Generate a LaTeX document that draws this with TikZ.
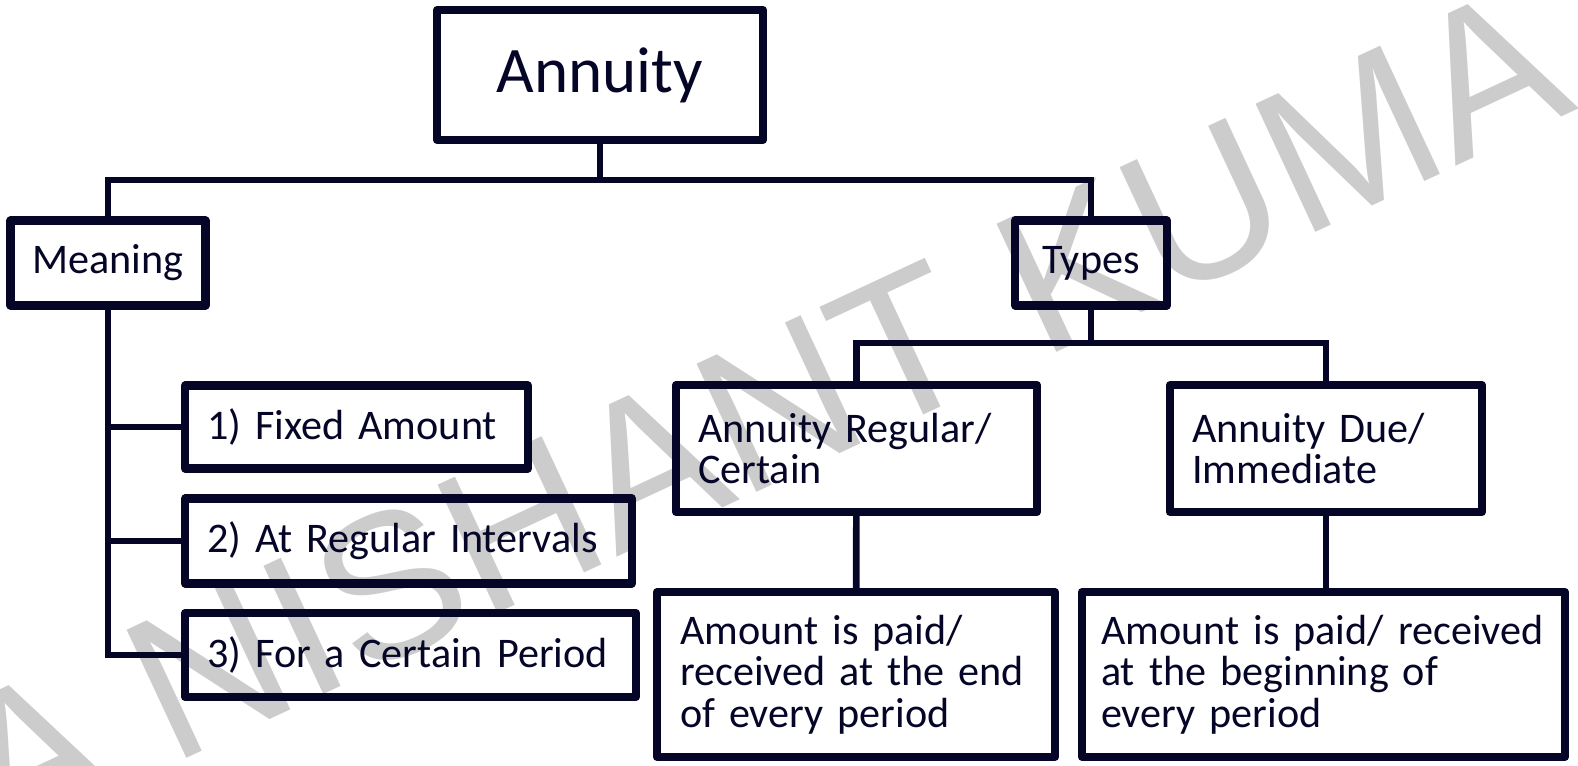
\documentclass[tikz,border=0pt]{standalone}
\usepackage{fontspec}
\setmainfont{Carlito}
\newfontfamily\markfont{Liberation Sans}
\usetikzlibrary{positioning,calc}
\definecolor{inkblue}{RGB}{5,5,40}
\definecolor{markgray}{RGB}{204,204,204}
\newcommand\boxfont{\fontsize{24}{23.5}\selectfont\spaceskip=0.17em plus 0.05em minus 0.03em\relax}
\tikzset{
  box/.style={draw=inkblue, line width=4.6pt, line join=round, text=inkblue, inner xsep=0.44cm, inner ysep=0pt, font=\boxfont},
  title/.style={box, font=\fontsize{37}{40}\selectfont},
  leftbox/.style={box, align=left},
  link/.style={draw=inkblue, line width=3.8pt}
}

\begin{document}
\begin{tikzpicture}[x=0.02cm, y=-0.02cm]
  \useasboundingbox (0,0) rectangle (1578,765);
  % watermark behind everything
  \begin{scope}
    \clip (0,0) rectangle (1578,765);
    \node[text=markgray, rotate=25, font=\markfont\fontsize{117}{117}\selectfont] (mark) at (758,414) {A NISHANT KUMA};
  \end{scope}
  % top level
  \node[title, minimum width=6.52cm, minimum height=2.6cm] (annuity) at (600,75) {Annuity};
  \node[box, minimum width=3.86cm, minimum height=1.7cm] (meaning) at (108,263) {Meaning};
  \node[box, minimum width=3.04cm, minimum height=1.7cm] (types) at (1091,263) {Types};
  % meaning branch
  \node[leftbox, minimum width=6.86cm, text width=5.98cm, minimum height=1.66cm] (fixed) at (356.5,427) {1) Fixed Amount};
  \node[leftbox, minimum width=8.94cm, text width=8.06cm, minimum height=1.7cm] (intervals) at (408.5,541) {2) At Regular Intervals};
  \node[leftbox, minimum width=9.02cm, text width=8.14cm, minimum height=1.68cm] (period) at (410.5,655) {3) For a Certain Period};
  % types branch
  \node[leftbox, minimum width=7.22cm, text width=6.34cm, minimum height=2.54cm] (regular) at (856.5,448.5) {Annuity Regular/\\Certain};
  \node[leftbox, minimum width=6.24cm, text width=5.36cm, minimum height=2.54cm] (due) at (1326,448.5) {Annuity Due/\\Immediate};
  \node[leftbox, minimum width=7.96cm, text width=7.04cm, inner xsep=0.46cm, minimum height=3.3cm] (enddesc) at (856,674.5) {Amount is paid/\\received at the end\\of every period};
  \node[leftbox, minimum width=9.66cm, text width=8.9cm, inner xsep=0.38cm, minimum height=3.3cm] (begindesc) at (1323.5,674.5) {Amount is paid/ received\\at the beginning of\\every period};
  % connectors
  \coordinate (topbus) at (600,180);
  \coordinate (typebus) at (1091,343);
  \draw[link] (annuity) -- (topbus);
  \draw[link] (meaning) |- (topbus) -| (types);
  \draw[link] (meaning) |- (period);
  \draw[link] (meaning.south |- fixed) -- (fixed);
  \draw[link] (meaning.south |- intervals) -- (intervals);
  \draw[link] (types) -- (typebus);
  \draw[link] (regular) |- (typebus) -| (due);
  \draw[link] (regular) -- (enddesc);
  \draw[link] (due) -- (due |- begindesc.north);
\end{tikzpicture}
\end{document}
